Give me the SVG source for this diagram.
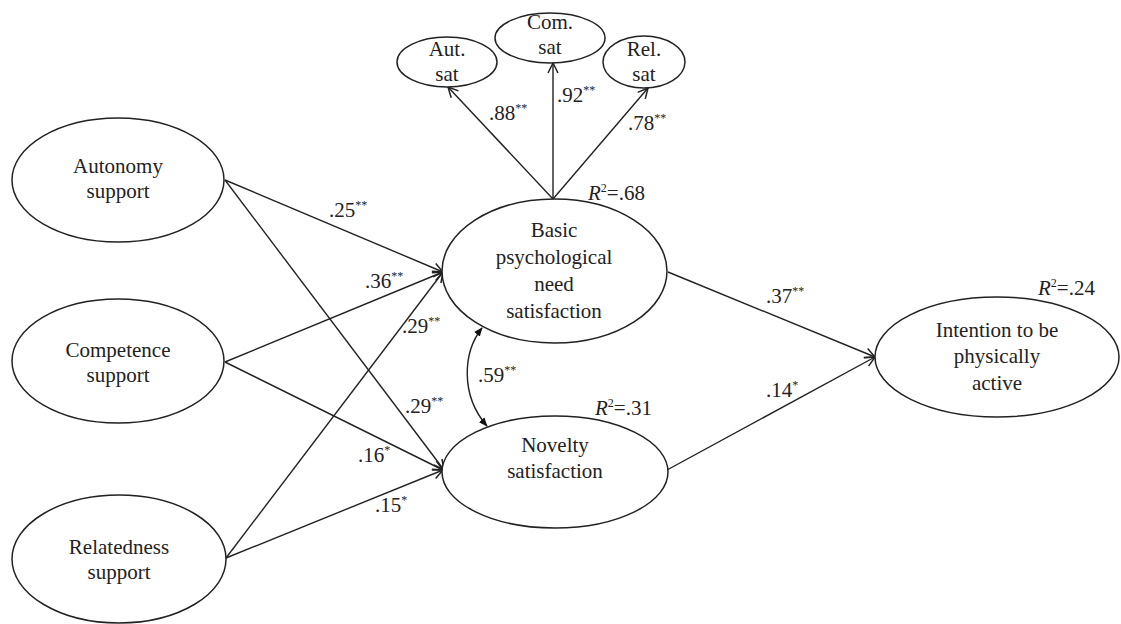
<svg xmlns="http://www.w3.org/2000/svg" width="1121" height="624" viewBox="0 0 1121 624">
<defs>
<style>
.node ellipse{fill:#fff;stroke:#222;stroke-width:1.5}
text{font-family:Liberation Serif,DejaVu Serif,Times,serif;font-size:21px;fill:#222}
.c{text-anchor:middle}
.sup{font-size:12px}
.conn line,.conn path{stroke:#222;stroke-width:1.4;fill:none}
</style>
<marker id="open" markerUnits="userSpaceOnUse" viewBox="0 0 12 12" refX="11" refY="6" markerWidth="12" markerHeight="12" orient="auto">
<path d="M1,1 L11,6 L1,11" fill="none" stroke="#222" stroke-width="1.5"/>
</marker>
<marker id="solid" markerUnits="userSpaceOnUse" viewBox="0 0 10 10" refX="9" refY="5" markerWidth="9" markerHeight="9" orient="auto-start-reverse">
<path d="M0,1 L10,5 L0,9 Z" fill="#111"/>
</marker>
</defs>
<rect width="1121" height="624" fill="#fff"/>

<g class="conn" id="connectors">
<line x1="553" y1="199" x2="448" y2="87" marker-end="url(#open)"/>
<line x1="553" y1="199" x2="553" y2="63" marker-end="url(#open)"/>
<line x1="553" y1="199" x2="648" y2="88" marker-end="url(#open)"/>
<line x1="225" y1="180" x2="443" y2="272" marker-end="url(#open)"/>
<line x1="225" y1="180" x2="444" y2="470" marker-end="url(#open)"/>
<line x1="225" y1="362" x2="443" y2="272" marker-end="url(#open)"/>
<line x1="225" y1="362" x2="443" y2="470" marker-end="url(#open)"/>
<line x1="226" y1="558" x2="443" y2="272" marker-end="url(#open)"/>
<line x1="226" y1="558" x2="443" y2="470" marker-end="url(#open)"/>
<line x1="668" y1="272" x2="875" y2="357" marker-end="url(#open)"/>
<line x1="667" y1="470" x2="875" y2="357" marker-end="url(#open)"/>
<path d="M482,328 C463,352 460,395 487,426" marker-start="url(#solid)" marker-end="url(#solid)"/>
</g>

<g class="node" id="aut-sat"><ellipse cx="447" cy="62" rx="50" ry="25"/><text class="c" x="447" y="56">Aut.</text><text class="c" x="447" y="81">sat</text></g>
<g class="node" id="com-sat"><ellipse cx="550" cy="38" rx="55" ry="25"/><text class="c" x="550" y="29">Com.</text><text class="c" x="550" y="54">sat</text></g>
<g class="node" id="rel-sat"><ellipse cx="644" cy="62" rx="41" ry="26"/><text class="c" x="644" y="56">Rel.</text><text class="c" x="644" y="81">sat</text></g>

<g class="node" id="autonomy"><ellipse cx="118" cy="180" rx="106" ry="62"/><text class="c" x="118" y="173">Autonomy</text><text class="c" x="118" y="198">support</text></g>
<g class="node" id="competence"><ellipse cx="118" cy="361" rx="106" ry="62"/><text class="c" x="118" y="357">Competence</text><text class="c" x="118" y="382">support</text></g>
<g class="node" id="relatedness"><ellipse cx="119" cy="559" rx="107" ry="64"/><text class="c" x="119" y="554">Relatedness</text><text class="c" x="119" y="579">support</text></g>

<g class="node" id="basic"><ellipse cx="554.5" cy="271" rx="112.5" ry="72"/>
<text class="c" x="554" y="237">Basic</text><text class="c" x="554" y="264">psychological</text><text class="c" x="554" y="291">need</text><text class="c" x="554" y="318">satisfaction</text></g>
<g class="node" id="novelty"><ellipse cx="555" cy="472" rx="113" ry="56"/><text class="c" x="555" y="452">Novelty</text><text class="c" x="555" y="478">satisfaction</text></g>
<g class="node" id="intention"><ellipse cx="997" cy="357" rx="122" ry="60"/><text class="c" x="997" y="337">Intention to be</text><text class="c" x="997" y="363">physically</text><text class="c" x="997" y="390">active</text></g>

<g id="labels">
<text x="489" y="120">.88<tspan class="sup" dy="-8">**</tspan></text>
<text x="557" y="102">.92<tspan class="sup" dy="-8">**</tspan></text>
<text x="628" y="130">.78<tspan class="sup" dy="-8">**</tspan></text>
<text x="329" y="217">.25<tspan class="sup" dy="-8">**</tspan></text>
<text x="365" y="288">.36<tspan class="sup" dy="-8">**</tspan></text>
<text x="402" y="333">.29<tspan class="sup" dy="-8">**</tspan></text>
<text x="405" y="413">.29<tspan class="sup" dy="-8">**</tspan></text>
<text x="478" y="382">.59<tspan class="sup" dy="-8">**</tspan></text>
<text x="358" y="462">.16<tspan class="sup" dy="-8">*</tspan></text>
<text x="375" y="512">.15<tspan class="sup" dy="-8">*</tspan></text>
<text x="766" y="303">.37<tspan class="sup" dy="-8">**</tspan></text>
<text x="766" y="397">.14<tspan class="sup" dy="-8">*</tspan></text>
<text x="588" y="200"><tspan font-style="italic">R</tspan><tspan class="sup" dy="-8">2</tspan><tspan dy="8">=.68</tspan></text>
<text x="595" y="415"><tspan font-style="italic">R</tspan><tspan class="sup" dy="-8">2</tspan><tspan dy="8">=.31</tspan></text>
<text x="1038" y="295"><tspan font-style="italic">R</tspan><tspan class="sup" dy="-8">2</tspan><tspan dy="8">=.24</tspan></text>
</g>
</svg>
